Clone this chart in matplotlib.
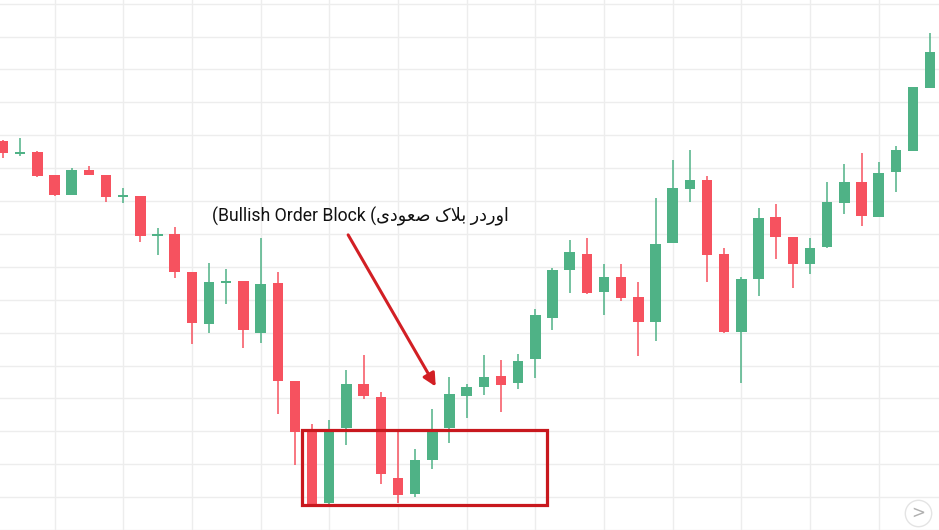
import matplotlib

matplotlib.use("Agg")
import matplotlib.pyplot as plt
import numpy as np
from matplotlib.patches import Rectangle


# قیمت ها (باز، سقف، کف، بسته) خوانده شده از تصویر
opens = [118.2, 114.3, 114.9, 107.9, 101.8, 109.4, 107.9, 101.2, 101.5, 89.4,
         90.0, 78.4, 62.6, 75.1, 75.7, 59.9, 75.1, 45.3, 30.4, 8.2,
         31.0, 44.4, 40.4, 15.8, 10.9, 21.3, 31.0, 40.7, 43.5, 46.8,
         44.7, 52.0, 64.4, 79.0, 83.9, 72.3, 76.9, 70.8, 63.2, 87.2,
         103.6, 106.4, 83.9, 60.2, 76.3, 95.1, 89.1, 80.9, 86.0, 99.4,
         105.8, 95.1, 108.8, 115.2, 134.3]
highs = [118.5, 119.1, 115.2, 107.9, 110.0, 110.6, 107.9, 104.0, 101.5, 91.8,
         92.1, 78.4, 81.2, 79.3, 75.7, 88.8, 78.4, 45.3, 32.2, 33.4,
         48.6, 53.2, 41.9, 30.1, 24.6, 36.8, 46.5, 44.4, 53.2, 51.7,
         53.5, 67.2, 79.6, 88.1, 88.8, 80.9, 80.9, 75.4, 100.9, 112.5,
         115.5, 107.6, 85.7, 76.9, 97.9, 99.1, 89.1, 88.8, 105.8, 111.2,
         114.6, 111.9, 116.7, 134.7, 151.1]
lows = [113.1, 113.7, 107.3, 101.5, 101.8, 107.9, 99.7, 99.4, 87.5, 83.6,
        76.6, 56.5, 59.9, 68.7, 55.3, 56.8, 35.3, 19.8, 7.3, 7.9,
        25.8, 39.8, 14.0, 8.2, 10.0, 18.5, 26.4, 34.0, 41.0, 35.9,
        42.9, 46.2, 60.8, 72.0, 71.7, 65.3, 69.6, 52.9, 57.4, 87.2,
        99.7, 75.4, 59.9, 44.7, 71.1, 82.4, 73.6, 77.8, 85.7, 96.0,
        92.4, 95.1, 102.7, 115.2, 134.3]
closes = [114.6, 114.6, 107.6, 101.8, 109.4, 107.9, 101.2, 101.5, 89.4, 89.7,
          78.4, 62.9, 75.4, 75.4, 60.8, 74.8, 45.3, 29.8, 7.6, 29.8,
          44.4, 40.7, 17.0, 10.6, 21.3, 29.8, 41.3, 43.5, 46.5, 44.1,
          51.4, 65.3, 79.0, 84.5, 72.0, 76.9, 70.5, 63.2, 86.9, 104.0,
          106.4, 83.6, 60.2, 76.3, 94.8, 89.1, 80.9, 85.7, 99.7, 105.8,
          95.4, 108.5, 115.5, 134.7, 145.3]

# ناحیه اوردر بلاک (از کندل 17 تا 31)
ob_start = 17.41
ob_end = 31.68
ob_low = 7.6
ob_high = 30.4

persian_text = "اوردر بلاک صعودی"
english_text = "Bullish Order Block"

col_up = "#4fb286"
col_down = "#f6525f"
col_box = "#c8181e"


# شکل های حروف: تنها، پایانی، آغازی، میانی
forms = {
    "ا": ("\ufe8d", "\ufe8e", None, None),
    "و": ("\ufeed", "\ufeee", None, None),
    "ر": ("\ufead", "\ufeae", None, None),
    "د": ("\ufea9", "\ufeaa", None, None),
    "ب": ("\ufe8f", "\ufe90", "\ufe91", "\ufe92"),
    "ل": ("\ufedd", "\ufede", "\ufedf", "\ufee0"),
    "ک": ("\ufb8e", "\ufb8f", "\ufb90", "\ufb91"),
    "ص": ("\ufeb9", "\ufeba", "\ufebb", "\ufebc"),
    "ع": ("\ufec9", "\ufeca", "\ufecb", "\ufecc"),
    "ی": ("\ufbfc", "\ufbfd", "\ufbfe", "\ufbff"),
}


def shape_word(word):
    glyphs = []
    prev_joins = False
    i = 0
    while i < len(word):
        c = word[i]
        if c == "ل" and i + 1 < len(word) and word[i + 1] == "ا":
            glyphs.append("\ufefc" if prev_joins else "\ufefb")
            prev_joins = False
            i += 2
            continue
        iso, fin, ini, med = forms[c]
        can_left = ini is not None and i + 1 < len(word)
        if prev_joins and can_left:
            g = med
        elif prev_joins:
            g = fin
        elif can_left:
            g = ini
        else:
            g = iso
        glyphs.append(g)
        prev_joins = can_left
        i += 1
    return "".join(reversed(glyphs))


def rtl_visual(text):
    return " ".join(shape_word(w) for w in reversed(text.split()))


label = "(" + english_text + " (" + rtl_visual(persian_text)

o = np.array(opens)
c = np.array(closes)
h = np.array(highs)
l = np.array(lows)
x = np.arange(len(o))
up = c >= o
colors = np.where(up, col_up, col_down)

fig = plt.figure(figsize=(9.39, 5.30), dpi=100)
ax = fig.add_axes([0, 0, 1, 1])

ax.vlines(x, l, h, colors=colors, linewidth=1.1, zorder=2)
body_low = np.minimum(o, c)
body_h = np.maximum(np.abs(c - o), 0.5)
ax.bar(x, body_h, bottom=body_low, width=0.61, color=colors, zorder=3)

ax.add_patch(Rectangle((ob_start, ob_low), ob_end - ob_start, ob_high - ob_low,
                       fill=False, edgecolor=col_box, linewidth=2.3, zorder=4))

ax.annotate("", xy=(25.2, 43.6), xytext=(20.1, 89.7),
            arrowprops=dict(arrowstyle="-|>", color="#d21f24", lw=2.2,
                            mutation_scale=19, shrinkA=0, shrinkB=0),
            zorder=5)

ax.text(20.8, 95.4, label, ha="center", va="center", fontsize=12.7,
        family=["Roboto", "DejaVu Sans"], color="#111111", zorder=6)

ax.set_xlim(-0.175, 54.51)
ax.set_ylim(0, 161.1)
ax.set_xticks(np.arange(3, 55, 4))
ax.set_yticks(np.arange(0, 161, 10))
ax.grid(True, color="#ededed", linewidth=1.0, zorder=0)
ax.set_axisbelow(True)
ax.tick_params(length=0, labelbottom=False, labelleft=False)
for s in ax.spines.values():
    s.set_visible(False)

# دکمه کوچک پایین راست
ax.plot([0.9776], [0.032], marker="o", markersize=19, markerfacecolor="white",
        markeredgecolor="#e4e4e4", markeredgewidth=1.0, transform=ax.transAxes,
        zorder=7, clip_on=False)
ax.text(0.9776, 0.032, ">", transform=ax.transAxes, ha="center", va="center",
        fontsize=12, color="#b0b0b0", zorder=8)

fig.savefig("out.png", dpi=100)
